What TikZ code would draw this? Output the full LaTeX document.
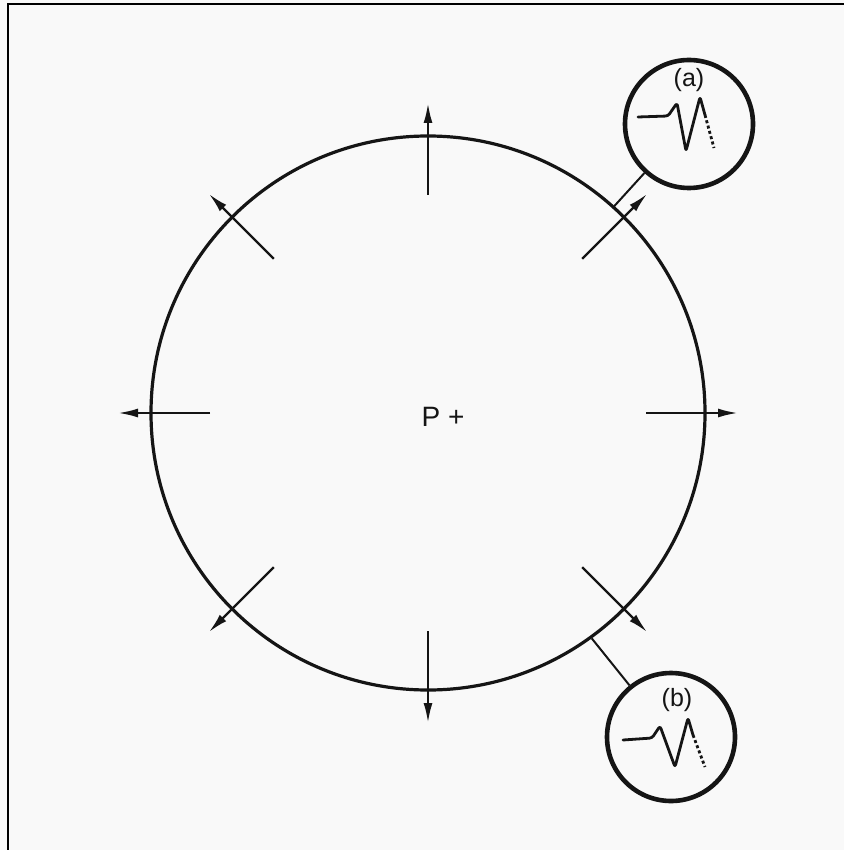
\documentclass[tikz,border=0pt]{standalone}
\usepackage{fontspec}
\setmainfont{Liberation Sans}
\usetikzlibrary{arrows.meta,calc}
\definecolor{paper}{HTML}{F9F9F9}
\definecolor{ink}{HTML}{151515}
\tikzset{
  mainring/.style={circle,draw=ink,line width=3.2pt,minimum size=554pt,inner sep=0pt},
  inset/.style={circle,draw=ink,line width=4.6pt,minimum size=128pt,inner sep=0pt},
  radarrow/.style={draw=ink,line width=2.3pt,-{Latex[length=20pt,width=9pt]}},
  link/.style={draw=ink,line width=2pt},
  wave/.style={draw=ink,line width=2.8pt,line join=round,line cap=round,rounded corners=2.5pt},
  wavetail/.style={draw=ink,line width=2.8pt,dash pattern=on 3pt off 2.5pt},
  lab/.style={font=\fontsize{25}{30}\selectfont,text=ink,inner sep=0pt},
  frameline/.style={draw=black,line width=2pt}
}
\begin{document}
\begin{tikzpicture}[x=1pt,y=-1pt]
  \fill[paper] (0,0) rectangle (844,850);
  \useasboundingbox (0,0) rectangle (844,850);
  \coordinate (fl) at (8,850);
  \coordinate (fc) at (8,4);
  \coordinate (fr) at (844,4);
  \draw[frameline] (fl) -- (fc) -- (fr);

  % main circle
  \node[mainring] (main) at (428,413) {};
  \node[lab,font=\fontsize{28}{32}\selectfont] (P) at (443,417) {P +};

  % radial arrows
  \foreach \a in {0,45,...,315}{
    \coordinate (in\a) at ($(main.center)+(\a:218)$);
    \coordinate (out\a) at ($(main.center)+(\a:310)$);
    \draw[radarrow] (in\a) -- (out\a);
  }

  % inset (a)
  \node[inset] (sa) at (689,124) {};
  \node[lab] (la) at ($(sa.center)+(0,-44)$) {(a)};
  \coordinate (ca) at (main.48);
  \draw[link] (ca) -- (sa);
  \begin{scope}[shift={(sa.center)}]
    \draw[wave] (-51,-7) -- (-21,-8) -- (-12,-21) -- (-3,27) -- (11,-27) -- (16,-9);
    \draw[wavetail] (16,-9) -- (25,24);
  \end{scope}

  % inset (b)
  \node[inset] (sb) at (671,737) {};
  \node[lab] (lb) at ($(sb.center)+(6,-37)$) {(b)};
  \coordinate (cb) at (main.-54);
  \draw[link] (cb) -- (sb);
  \begin{scope}[shift={(sb.center)}]
    \draw[wave] (-48,3) -- (-19,1) -- (-11,-11) -- (4,30) -- (17,-19) -- (22,-2);
    \draw[wavetail] (22,-2) -- (34,30);
  \end{scope}
\end{tikzpicture}
\end{document}
